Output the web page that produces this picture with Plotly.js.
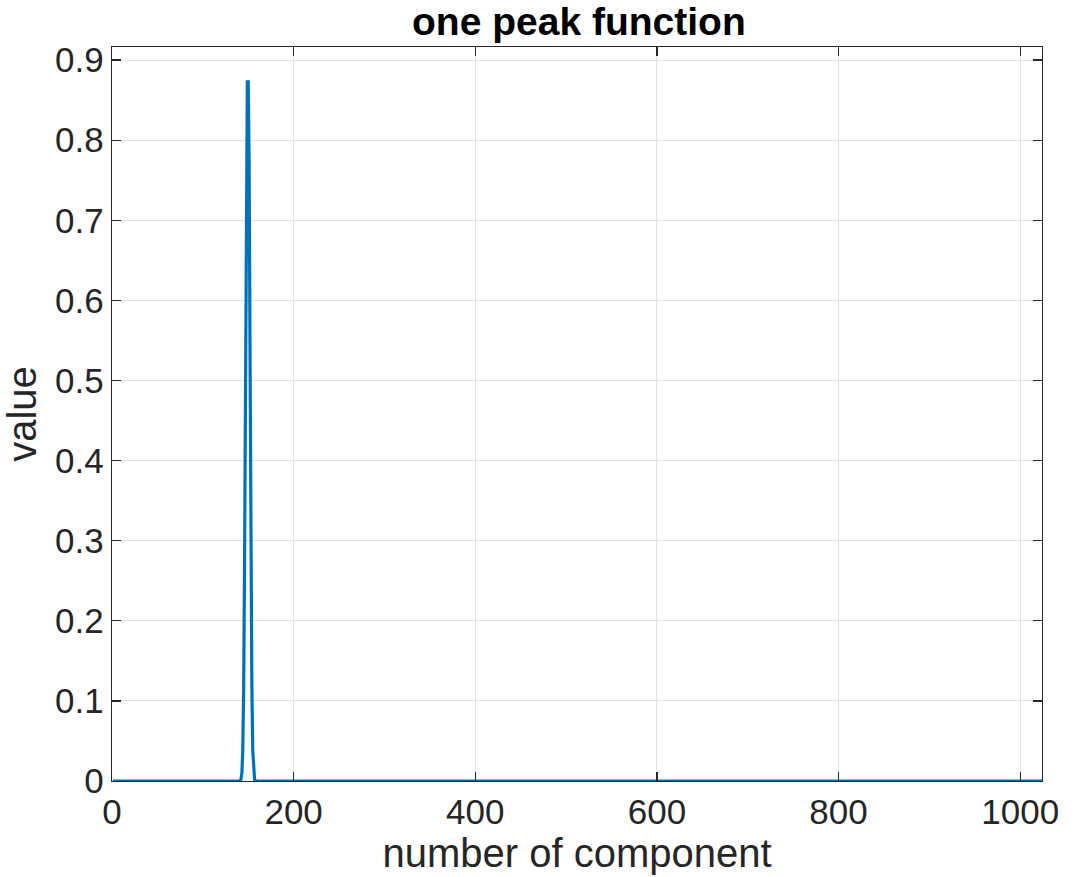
<!DOCTYPE html>
<html>
<head>
<meta charset="utf-8">
<script src="https://cdn.plot.ly/plotly-3.0.1.min.js"></script>
<style>html,body{margin:0;padding:0;background:#fff;}#chart{width:1077px;height:877px;}</style>
</head>
<body>
<div id="chart"></div>
<script>
// component index (key points)
const componentIndex = [1, 140, 141, 142, 143, 144, 145, 146, 147, 148, 149, 150, 151, 152, 153, 154, 155, 156, 157, 158, 159, 160, 1024];
// value at each component
const peakValues = [0, 0, 0.0003, 0.0019, 0.0097, 0.038, 0.118, 0.283, 0.529, 0.770, 0.8727, 0.8727, 0.770, 0.529, 0.283, 0.118, 0.038, 0.0097, 0.0019, 0.0003, 0, 0, 0];
const xTicks = [0, 200, 400, 600, 800, 1000];
const yTicks = [0, 0.1, 0.2, 0.3, 0.4, 0.5, 0.6, 0.7, 0.8, 0.9];
const yTickText = ['0', '0.1', '0.2', '0.3', '0.4', '0.5', '0.6', '0.7', '0.8', '0.9'];

const font = 'Liberation Sans, Arial, Helvetica, sans-serif';
const trace = {
  x: componentIndex,
  y: peakValues,
  type: 'scatter',
  mode: 'lines',
  line: {color: '#0072BD', width: 3.2},
  hoverinfo: 'x+y'
};
const axisCommon = {
  showline: true, mirror: 'ticks', linecolor: '#262626', linewidth: 1.3,
  ticks: 'inside', ticklen: 9, tickwidth: 1.3, tickcolor: '#262626',
  showgrid: true, gridcolor: '#e3e3e3', gridwidth: 1,
  zeroline: false,
  tickfont: {family: font, size: 35, color: '#262626'}
};
const layout = {
  width: 1077, height: 877,
  margin: {l: 112, r: 35, t: 47, b: 96},
  paper_bgcolor: '#ffffff', plot_bgcolor: '#ffffff',
  showlegend: false,
  title: {text: '<b>one peak function</b>', font: {family: font, size: 39, color: '#000000'}, x: 0.5375, xanchor: 'center', y: 0.9755, yanchor: 'middle'},
  xaxis: Object.assign({}, axisCommon, {
    range: [0, 1024], tickvals: xTicks, ticktext: xTicks.map(String),
    title: {text: 'number of component', font: {family: font, size: 40, color: '#262626'}, standoff: 4}
  }),
  yaxis: Object.assign({}, axisCommon, {
    range: [0, 0.9163], tickvals: yTicks, ticktext: yTickText,
    title: {text: 'value', font: {family: font, size: 40, color: '#262626'}, standoff: 6}
  })
};
Plotly.newPlot('chart', [trace], layout, {displayModeBar: false, staticPlot: true});
</script>
</body>
</html>
